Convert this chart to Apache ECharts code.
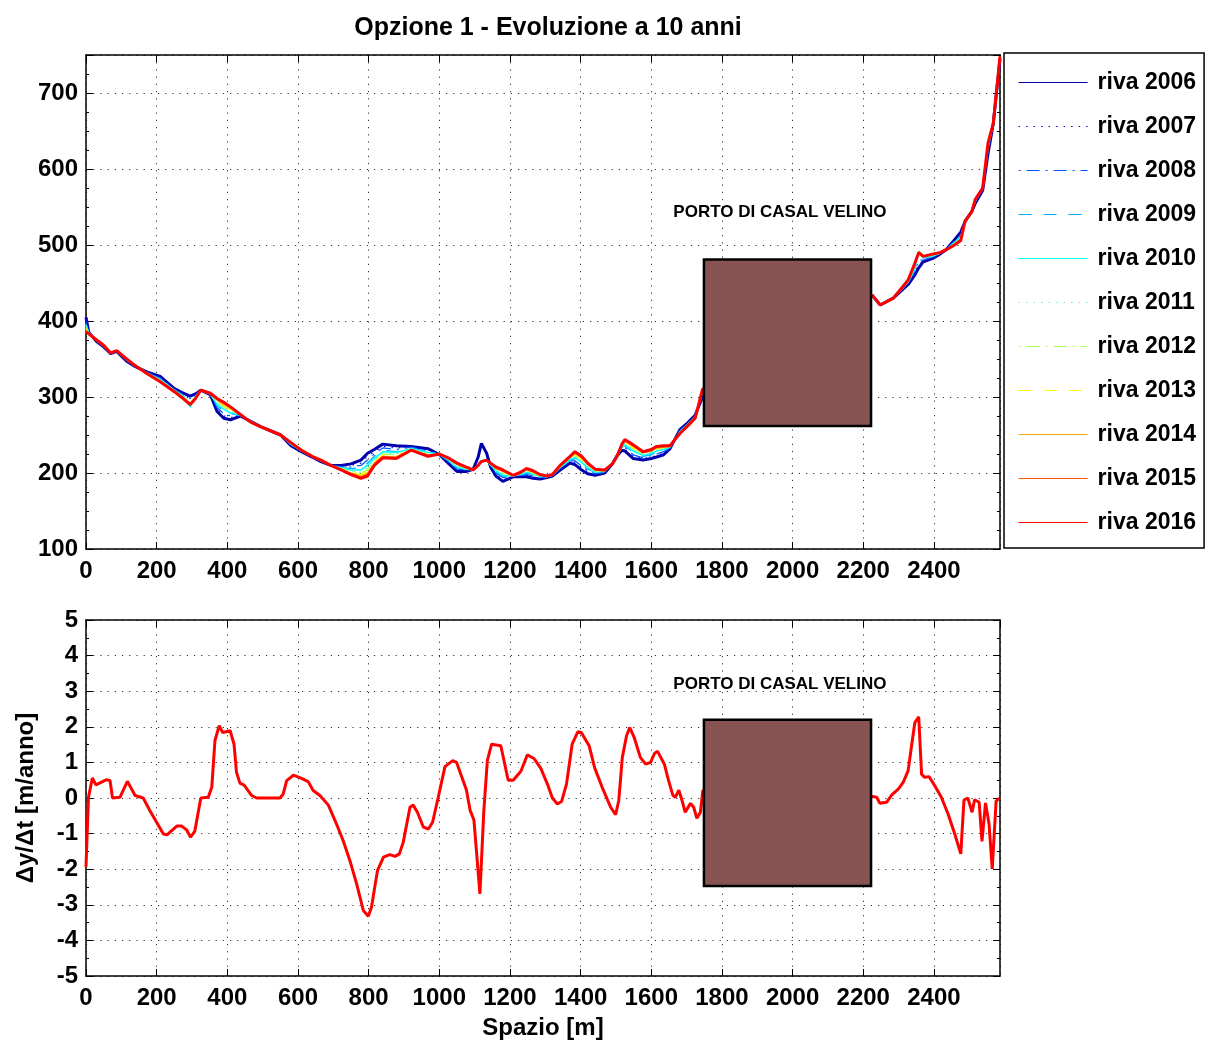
<!DOCTYPE html>
<html>
<head>
<meta charset="utf-8">
<script src="https://cdn.jsdelivr.net/npm/echarts@6/dist/echarts.min.js"></script>
<style>html,body{margin:0;padding:0;background:#fff}#c{width:1207px;height:1041px}</style>
</head>
<body>
<div id="c"></div>
<script>
// ---------- DATA ----------
const TITLE = 'Opzione 1 - Evoluzione a 10 anni';
const X_TICKS = [0, 2587];           // x range (m)
const Y_TOP_RANGE = [100, 750];
const Y_BOT_RANGE = [-5, 5];
const NAMES = ['riva 2006','riva 2007','riva 2008','riva 2009','riva 2010','riva 2011','riva 2012','riva 2013','riva 2014','riva 2015','riva 2016'];

const X_TOP = [0,8,30,50,70,87,115,140,172,210,250,275,295,310,325,352,371,390,409,437,466,494,551,580,610,640,665,693,722,750,778,797,816,840,878,920,968,1001,1025,1050,1075,1096,1110,1119,1134,1145,1160,1180,1209,1230,1247,1265,1285,1304,1320,1342,1370,1384,1403,1420,1441,1468,1490,1502,1517,1525,1549,1577,1600,1615,1635,1653,1681,1703,1724,1745,2225,2248,2285,2327,2345,2357,2370,2395,2417,2435,2455,2476,2488,2507,2517,2538,2553,2568,2587];

const Y2006 = [405,385,373,366,357,360,347,340,333,327,311,305,301,304,309,303,281,272,270,275,268,261,250,236,228,221,215,210,210,212,217,226,231,238,236,235,232,224,213,202,202,205,221,239,226,208,196,189,195,195,195,193,192,194,196,204,213,211,204,199,197,200,212,222,230,229,219,217,219,221,224,232,257,266,276,300,434,421,430,448,460,470,478,482,488,494,505,517,531,544,555,572,620,660,745];
const Y2007 = [402,384,373,366,357,360,347,340,333,326,310,304,299,303,309,303,284,275,273,275,268,261,250,237,228,221,215,210,209,210,213,222,228,235,233,234,231,224,214,204,203,205,212,217,218,209,198,191,195,196,197,195,193,194,196,205,214,214,207,201,198,201,212,222,231,231,222,219,221,223,226,233,256,265,275,302,434,421,430,449,462,475,479,483,488,494,504,515,531,544,556,572,622,660,745];
const Y2008 = [399,384,374,367,357,360,348,340,332,325,310,303,298,302,309,304,286,278,275,276,268,261,250,237,229,221,216,210,208,208,210,217,225,233,231,234,229,224,215,205,204,205,211,216,218,210,200,194,196,197,198,196,194,195,197,206,216,216,209,203,199,201,212,222,232,234,224,220,223,225,228,233,256,265,275,303,434,421,430,450,465,480,480,484,489,494,503,514,531,544,557,573,624,660,746];
const Y2009 = [396,384,374,367,357,361,348,341,332,324,309,302,288,301,309,304,289,281,278,276,268,261,250,238,229,221,216,210,207,206,206,213,222,230,228,233,228,224,216,207,205,205,211,216,217,210,201,196,196,198,200,198,195,195,197,207,217,219,212,205,201,202,212,222,234,236,227,222,224,227,229,234,255,264,274,305,434,421,430,451,467,490,483,485,489,494,502,512,531,544,557,573,626,660,746];
const Y2010 = [395,384,374,367,358,361,349,341,332,323,309,301,287,301,309,304,290,284,279,276,268,261,250,238,229,222,216,210,207,204,204,210,219,228,227,232,227,225,217,208,205,204,210,216,217,211,203,197,196,198,201,199,195,195,197,207,218,220,214,207,201,202,212,222,234,237,229,223,226,229,231,234,254,264,274,306,434,421,430,451,468,492,484,485,489,494,502,511,531,544,558,574,628,660,747];
const Y2011 = [393,384,374,367,358,361,349,341,332,322,308,300,294,300,309,304,292,286,281,276,267,261,250,239,229,222,216,210,206,203,201,207,217,226,225,232,226,225,218,209,206,204,210,215,217,211,204,199,196,199,202,200,196,195,197,208,219,222,216,208,202,203,212,221,235,239,231,224,227,230,232,235,254,263,273,307,434,421,430,452,470,492,485,486,489,494,501,510,531,544,558,574,629,660,747];
const Y2012 = [391,384,374,367,358,361,349,341,332,322,308,300,293,300,309,304,293,287,282,276,267,261,250,239,229,222,216,210,206,202,200,204,216,225,224,231,225,225,218,210,206,204,210,215,217,211,205,200,196,199,203,200,196,195,197,208,219,223,217,209,203,203,212,221,236,240,232,225,228,231,233,235,253,263,273,307,434,421,430,452,471,492,485,486,489,494,501,509,531,544,559,574,630,660,747];
const Y2013 = [390,383,375,368,358,361,349,341,331,321,308,299,292,299,309,305,295,289,284,277,267,261,250,239,230,222,217,210,205,201,198,202,214,224,222,231,224,225,219,211,207,204,210,215,217,212,206,201,197,200,204,201,197,196,198,209,220,225,218,210,203,203,212,221,236,241,233,226,229,232,234,235,253,263,273,308,434,421,430,453,472,491,485,487,490,494,500,508,531,544,559,574,631,660,747];
const Y2014 = [388,383,375,368,358,361,350,341,331,321,308,299,291,299,309,305,296,290,285,277,267,261,250,239,230,222,217,210,205,200,196,200,213,222,221,231,223,225,219,212,207,204,210,215,217,212,206,202,197,200,205,202,197,196,198,209,221,226,220,211,204,203,212,221,237,242,235,227,229,233,234,235,253,263,273,309,434,421,430,453,473,491,485,487,490,494,500,507,531,544,559,575,632,660,748];
const Y2015 = [387,383,375,368,358,361,350,341,331,320,307,298,291,298,309,305,297,292,286,277,267,261,250,240,230,222,217,210,204,199,194,198,211,221,220,230,223,225,220,212,208,204,210,215,217,213,207,203,197,201,205,202,198,196,198,210,221,227,221,212,205,204,212,221,238,243,236,227,230,234,235,236,252,262,272,309,434,421,430,454,474,490,485,488,490,494,499,507,531,544,560,575,633,660,748];
const Y2016 = [386,383,375,368,358,361,350,341,331,320,307,298,290,298,309,305,298,293,287,277,267,261,250,240,230,222,217,210,204,198,193,196,210,220,219,230,222,225,220,213,208,204,210,215,217,213,208,204,197,201,206,203,198,196,198,210,222,228,222,213,205,204,212,221,238,244,237,228,231,235,236,236,252,262,272,310,434,421,430,454,475,490,485,488,490,494,499,506,531,544,560,575,634,660,748];

const X_RATE = [0,7,18,28,57,68,75,96,117,139,162,181,219,230,257,271,285,296,308,325,346,356,365,377,387,408,419,426,436,447,469,483,549,558,568,587,610,629,643,662,686,709,728,747,766,785,799,808,825,842,860,875,887,898,917,926,938,955,969,981,997,1016,1038,1049,1077,1087,1098,1115,1126,1136,1148,1174,1195,1209,1231,1249,1268,1287,1306,1320,1334,1346,1360,1376,1392,1402,1424,1440,1461,1485,1499,1508,1518,1530,1539,1551,1569,1584,1598,1609,1618,1637,1649,1661,1668,1678,1687,1696,1711,1720,1729,1739,1746,2226,2238,2247,2266,2280,2299,2313,2327,2336,2346,2357,2365,2374,2386,2402,2421,2440,2459,2476,2485,2496,2508,2515,2528,2536,2546,2556,2565,2576,2586];
const RATE = [-1.94,0.02,0.56,0.37,0.51,0.49,0,0.02,0.47,0.07,0,-0.36,-1.01,-1.03,-0.79,-0.79,-0.9,-1.1,-0.93,0,0.02,0.3,1.61,2.03,1.84,1.89,1.51,0.72,0.41,0.37,0.07,0,0,0.11,0.49,0.64,0.55,0.46,0.21,0.07,-0.2,-0.73,-1.2,-1.76,-2.41,-3.16,-3.32,-3.07,-2.04,-1.66,-1.59,-1.64,-1.57,-1.24,-0.26,-0.2,-0.4,-0.82,-0.87,-0.68,0.02,0.88,1.05,1.0,0.22,-0.34,-0.62,-2.69,-0.36,1.05,1.51,1.47,0.5,0.5,0.75,1.21,1.11,0.84,0.39,0,-0.17,-0.1,0.39,1.51,1.86,1.84,1.47,0.84,0.3,-0.26,-0.47,-0.07,1.14,1.75,1.98,1.72,1.14,0.95,1.0,1.25,1.31,0.95,0.49,0.08,0.02,0.22,-0.07,-0.4,-0.15,-0.26,-0.57,-0.4,0.21,0.04,0.02,-0.15,-0.12,0.08,0.25,0.44,0.77,1.42,2.12,2.28,0.67,0.58,0.6,0.35,0.02,-0.45,-1.01,-1.57,-0.06,0,-0.4,-0.05,-0.12,-1.22,-0.14,-0.73,-1.99,-0.09,0];

const PORT_X = [1749, 2222];
const PORT_Y_TOP = [262, 481];
const PORT_Y_BOT = [-2.47, 2.2];
const PORT_LABEL = 'PORTO DI CASAL VELINO';
const LABEL_POS_TOP = [1964, 543];
const LABEL_POS_BOT = [1964, 3.2];

// ---------- STYLES ----------
const FONT = "'Liberation Sans', Arial, Helvetica, sans-serif";
const COLORS = ['#0000AA','#0000FF','#0055FF','#00AAFF','#00FFFF','#55FFAA','#AAFF55','#FFFF00','#FFAA00','#FF5500','#FF0000'];
const DOT = [1.5, 6], DASHDOT = [2, 6, 13, 6], DASH = [13, 12];
const TYPES = ['solid', DOT, DASHDOT, DASH, 'solid', DOT, DASHDOT, DASH, 'solid', 'solid', 'solid'];
const WIDTHS = [3, 1.3, 1.3, 1.3, 1.6, 1.3, 1.3, 1.3, 1.6, 1.6, 3];
const YS = [Y2006,Y2007,Y2008,Y2009,Y2010,Y2011,Y2012,Y2013,Y2014,Y2015,Y2016];

const chart = echarts.init(document.getElementById('c'), null, {renderer: 'canvas'});
const plain = v => String(v);

function xAx(grid, pos, labels, name) {
  return {
    type: 'value', gridIndex: grid, position: pos, min: X_TICKS[0], max: X_TICKS[1], interval: 200,
    axisLine: {show: true, onZero: false, lineStyle: {color: '#000', width: 1.5}},
    axisTick: {show: true, inside: true, length: 7, lineStyle: {color: '#000', width: 1}},
    axisLabel: {show: labels, showMaxLabel: false, margin: 10, formatter: plain, color: '#000', fontSize: 24, fontWeight: 'bold', fontFamily: FONT},
    splitLine: {show: labels, lineStyle: {color: '#333', width: 1, type: [1.2, 6]}},
    name: name || '', nameLocation: 'middle', nameGap: 40,
    nameTextStyle: {color: '#000', fontSize: 24, fontWeight: 'bold', fontFamily: FONT}
  };
}
function yAx(grid, pos, labels, range, interval, minorSplit, name) {
  return {
    type: 'value', gridIndex: grid, position: pos, min: range[0], max: range[1], interval: interval,
    axisLine: {show: true, onZero: false, lineStyle: {color: '#000', width: 1.5}},
    axisTick: {show: true, inside: true, length: 7, lineStyle: {color: '#000', width: 1}},
    minorTick: {show: true, splitNumber: minorSplit, length: 3, lineStyle: {color: '#000', width: 1}},
    axisLabel: {show: labels, showMaxLabel: range[1] % interval === 0, margin: 8, formatter: plain, color: '#000', fontSize: 24, fontWeight: 'bold', fontFamily: FONT},
    splitLine: {show: labels, lineStyle: {color: '#333', width: 1, type: [1.2, 6]}},
    name: name || '', nameLocation: 'middle', nameGap: 48, nameRotate: 90,
    nameTextStyle: {color: '#000', fontSize: 24, fontWeight: 'bold', fontFamily: FONT}
  };
}

const series = [];
YS.forEach((ys, i) => {
  series.push({
    name: NAMES[i], type: 'line', xAxisIndex: 0, yAxisIndex: 0,
    data: X_TOP.map((x, k) => [x, ys[k]]),
    showSymbol: false, symbol: 'none', clip: true,
    lineStyle: {color: COLORS[i], width: WIDTHS[i], type: TYPES[i]},
    itemStyle: {color: COLORS[i]}, z: 2 + i
  });
});
series.push({
  name: 'rate', type: 'line', xAxisIndex: 2, yAxisIndex: 2,
  data: X_RATE.map((x, k) => [x, RATE[k]]),
  showSymbol: false, symbol: 'none',
  lineStyle: {color: '#FF0000', width: 3}, z: 3
});
function rectSeries(xi, yi, yr) {
  return {
    type: 'custom', xAxisIndex: xi, yAxisIndex: yi, z: 20,
    data: [[PORT_X[0], PORT_X[1], yr[0], yr[1]]],
    encode: {x: [0, 1], y: [2, 3]},
    renderItem: function (params, api) {
      const p1 = api.coord([api.value(0), api.value(3)]);
      const p2 = api.coord([api.value(1), api.value(2)]);
      return {type: 'rect', shape: {x: p1[0], y: p1[1], width: p2[0] - p1[0], height: p2[1] - p1[1]},
        style: {fill: '#875353', stroke: '#000', lineWidth: 2.5}};
    }
  };
}
series.push(rectSeries(0, 0, PORT_Y_TOP));
series.push(rectSeries(2, 2, PORT_Y_BOT));
function labelSeries(xi, yi, pos) {
  return {
    type: 'custom', xAxisIndex: xi, yAxisIndex: yi, z: 21, silent: true,
    data: [pos], encode: {x: 0, y: 1},
    renderItem: function (params, api) {
      const p = api.coord([api.value(0), api.value(1)]);
      return {type: 'text', x: p[0], y: p[1],
        style: {text: PORT_LABEL, fill: '#000', font: 'bold 17px ' + FONT, align: 'center', verticalAlign: 'middle'}};
    }
  };
}
series.push(labelSeries(0, 0, LABEL_POS_TOP));
series.push(labelSeries(2, 2, LABEL_POS_BOT));

chart.setOption({
  animation: false,
  backgroundColor: '#fff',
  title: {text: TITLE, left: 543, top: 11, textAlign: 'center',
    textStyle: {color: '#000', fontSize: 25, fontWeight: 'bold', fontFamily: FONT}},
  legend: {
    data: NAMES, orient: 'vertical', left: 1004, top: 53,
    itemWidth: 69, itemHeight: 14, itemGap: 21,
    padding: [18, 8, 14, 14], borderColor: '#000', borderWidth: 1.5,
    selectedMode: false,
    itemStyle: {opacity: 0},
    lineStyle: {width: 1.2, opacity: 1},
    textStyle: {color: '#000', fontSize: 23, fontWeight: 'bold', fontFamily: FONT, padding: [0, 0, 0, 5]}
  },
  grid: [
    {left: 86, top: 55, width: 914, height: 494, show: false},
    {left: 86, top: 620, width: 914, height: 356, show: false}
  ],
  xAxis: [xAx(0, 'bottom', true), xAx(0, 'top', false), xAx(1, 'bottom', true, 'Spazio [m]'), xAx(1, 'top', false)],
  yAxis: [
    yAx(0, 'left', true, Y_TOP_RANGE, 100, 4),
    yAx(0, 'right', false, Y_TOP_RANGE, 100, 4),
    yAx(1, 'left', true, Y_BOT_RANGE, 1, 2, 'Δy/Δt [m/anno]'),
    yAx(1, 'right', false, Y_BOT_RANGE, 1, 2)
  ],
  series: series
});
</script>
</body>
</html>
